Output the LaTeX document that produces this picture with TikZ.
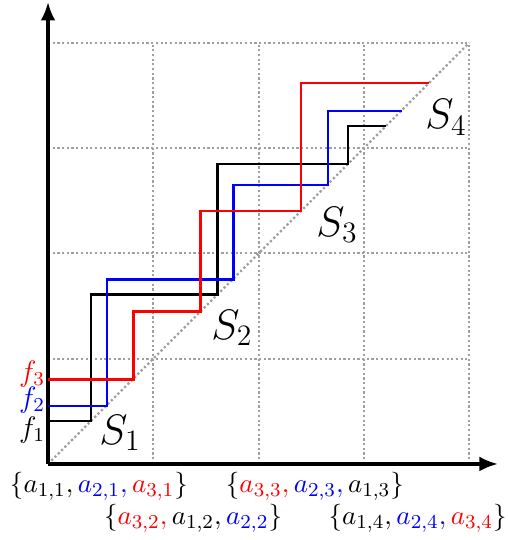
\documentclass[tikz,border=0pt]{standalone}
\usetikzlibrary{arrows.meta}

\begin{document}
\begin{tikzpicture}[
	x=1.5cm,
	y=1.5cm,
	axis/.style={line width=1.3pt, -{Latex[length=7.5pt, width=6pt]}},
	helper/.style={gray!75, densely dotted, line width=0.9pt},
	stair/.style={line width=1pt},
	flab/.style={font=\large, inner sep=1pt},
	slab/.style={font=\LARGE, inner sep=1pt},
	setlab/.style={font=\fontsize{11}{13}\selectfont, inner sep=1pt},
]
\useasboundingbox (-0.456,-0.722) rectangle (4.359,4.406);

% --- Grid and diagonal ---
\draw[helper, step=1.5cm] (0,0) grid (4,4);
\draw[helper] (0,0) -- (4,4);

% --- Axes ---
\coordinate (origin) at (0,0);
\coordinate (xend) at (4.273,0);
\coordinate (yend) at (0,4.387);
\draw[axis] (origin) -- (xend);
\draw[axis] (origin) -- (yend);

% --- Staircases f1, f2, f3 ---
\draw[stair, black] (0,0.41) -| (0.41,1.61) -| (1.61,2.85) -| (2.85,3.21) -- (3.21,3.21);
\draw[stair, blue] (0,0.55) -| (0.56,1.75) -| (1.76,2.65) -| (2.66,3.35) -- (3.36,3.35);
\draw[stair, red] (0,0.80) -| (0.81,1.45) -| (1.45,2.40) -| (2.40,3.62) -- (3.62,3.62);

% --- Curve labels ---
\node[flab, text=red] (f3) at (-0.152,0.855) {$f_3$};
\node[flab, text=blue] (f2) at (-0.152,0.608) {$f_2$};
\node[flab] (f1) at (-0.152,0.323) {$f_1$};

% --- Regions ---
\node[slab] (s1) at (0.684,0.294) {$S_1$};
\node[slab] (s2) at (1.747,1.29) {$S_2$};
\node[slab] (s3) at (2.745,2.27) {$S_3$};
\node[slab] (s4) at (3.78,3.29) {$S_4$};

% --- Sets under the x axis ---
\node[setlab] (set1) at (0.484,-0.214) {$\{a_{1,1}, \color{blue}a_{2,1}, \color{red}a_{3,1}\color{black}\}$};
\node[setlab] (set2) at (1.377,-0.518) {$\{\color{red}a_{3,2}, \color{black}a_{1,2}, \color{blue}a_{2,2}\color{black}\}$};
\node[setlab] (set3) at (2.535,-0.214) {$\{\color{red}a_{3,3}, \color{blue}a_{2,3}, \color{black}a_{1,3}\}$};
\node[setlab] (set4) at (3.51,-0.518) {$\{a_{1,4}, \color{blue}a_{2,4}, \color{red}a_{3,4}\color{black}\}$};

\end{tikzpicture}
\end{document}
